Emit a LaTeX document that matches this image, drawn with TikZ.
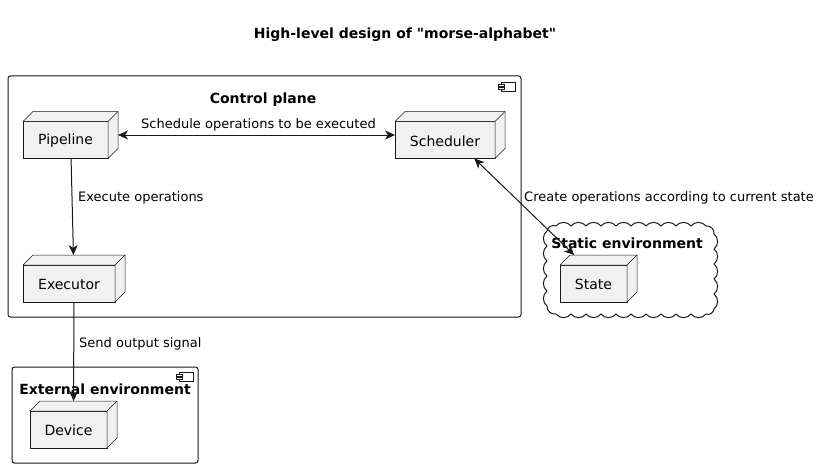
\documentclass[tikz,border=0pt]{standalone}
\usepackage{fontspec}
\setmainfont{DejaVu Sans}
\newfontfamily\plainq{DejaVu Sans}
\usetikzlibrary{arrows.meta}
\definecolor{nodefill}{HTML}{F1F1F1}
\definecolor{ink}{HTML}{181818}
\tikzset{
  bbox/.style={inner sep=0pt,outer sep=0pt,draw=none,minimum width=#1},
  face/.style={draw=ink,line width=0.5pt,fill=nodefill,line join=round},
  nodetext/.style={font=\fontsize{14}{16}\selectfont,text=black},
  grptitle/.style={font=\fontsize{14}{16}\selectfont\bfseries,text=black},
  lbl/.style={font=\fontsize{13}{15}\selectfont,text=black,inner sep=0pt},
  grpbox/.style={draw=ink,line width=1pt,rounded corners=2.5pt},
  conn/.style={draw=ink,line width=1pt},
  tip/.style={-{Stealth[length=10pt,width=9pt,inset=3pt]}},
  bitip/.style={{Stealth[length=10pt,width=9pt,inset=3pt]}-{Stealth[length=10pt,width=9pt,inset=3pt]}},
  icon/.style={draw=ink,line width=0.6pt,fill=white},
  puff/.style={bend left=55}
}
% name, cx, cy, w, h, text
\newcommand\threedbox[6]{%
  \node[bbox=#4pt,minimum height=#5pt] (#1) at (#2,#3) {};
  \path[face] ([shift={(0,10)}]#1.north west) rectangle ([shift={(-10,0)}]#1.south east);
  \path[face] ([shift={(0,10)}]#1.north west) -- ([shift={(10,0)}]#1.north west) -- (#1.north east)
     -- ([shift={(0,-10)}]#1.south east) -- ([shift={(-10,0)}]#1.south east) -- ([shift={(-10,10)}]#1.north east) -- cycle;
  \draw[draw=ink,line width=0.5pt] ([shift={(-10,10)}]#1.north east) -- (#1.north east);
  \node[nodetext] (#1-t) at ({#2-5},{#3+6}) {#6};
}
% top-left of icon body
\newcommand\compicon[2]{%
  \path[icon] ({#1},{#2}) rectangle ({#1+14},{#2+9});
  \path[icon] ({#1-3},{#2+2}) rectangle ({#1+3},{#2+4});
  \path[icon] ({#1-3},{#2+5.5}) rectangle ({#1+3},{#2+7.5});
}
\begin{document}
\begin{tikzpicture}[x=1pt,y=-1pt]
\useasboundingbox[fill=white] (0,0) rectangle (821,468);

\node[grptitle] (title) at (405,34.5) {High-level design of {\plainq"}morse-alphabet{\plainq"}};

% Control plane
\draw[grpbox] (8,76) rectangle (521,317);
\node[grptitle] (cp) at (263,99.5) {Control plane};
\compicon{501}{82}

% External environment
\draw[grpbox] (12,367) rectangle (198,463);
\node[grptitle] (ext) at (105,389.5) {External environment};
\compicon{179}{372}

% Static environment cloud
\draw[draw=ink,line width=1pt,line join=round]
  (556,226)
  \foreach \x in {571,586,...,706} { to[puff] (\x,226) }
  to[puff] (714,234)
  \foreach \y in {249,264,...,309} { to[puff] (714,\y) }
  to[puff] (706,314)
  \foreach \x in {691,676,...,556} { to[puff] (\x,314) }
  to[puff] (547,306)
  \foreach \y in {291,276,...,231} { to[puff] (547,\y) }
  to[puff] (556,226);
\node[grptitle] (se) at (627,243.5) {Static environment};

% Nodes
\threedbox{pipe}{70.5}{135}{95}{47}{Pipeline}
\threedbox{sched}{450}{135}{110}{47}{Scheduler}
\threedbox{exec}{74}{278.5}{102}{47}{Executor}
\threedbox{dev}{73.5}{424.5}{87}{47}{Device}
\threedbox{state}{598.5}{278.5}{77}{47}{State}

% Connectors
\draw[conn,bitip] (pipe) -- (sched);
\draw[conn,tip] (pipe) -- (exec);
\draw[conn,tip] (exec) -- (dev);
\draw[conn,bitip] (sched) -- (state);

% Labels
\node[lbl] (l1) at (258.5,124.5) {Schedule operations to be executed};
\node[lbl,anchor=west] (l2) at (78,197.5) {Execute operations};
\node[lbl,anchor=west] (l3) at (79,343.5) {Send output signal};
\node[lbl,anchor=west] (l4) at (524,197.5) {Create operations according to current state};
\end{tikzpicture}
\end{document}
